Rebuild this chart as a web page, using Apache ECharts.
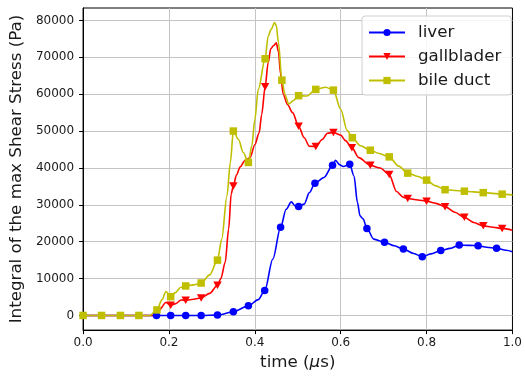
<!DOCTYPE html>
<html><head><meta charset="utf-8">
<script src="https://cdn.jsdelivr.net/npm/echarts@6/dist/echarts.min.js"></script>
<style>html,body{margin:0;padding:0;background:#fff}#c{width:525px;height:376px}</style>
</head><body><div id="c"></div>
<script>
const xTicks = [0, 0.2, 0.4, 0.6, 0.8, 1.0];
const yTicks = [0, 10000, 20000, 30000, 40000, 50000, 60000, 70000, 80000];
const seriesNames = ['liver', 'gallblader', 'bile duct'];

const liverT = [0,0.045,0.09,0.13,0.171,0.204,0.239,0.275,0.313,0.35,0.385,0.408,0.423,0.442,0.46,0.473,0.485,0.494,0.502,0.515,0.527,0.54,0.561,0.581,0.588,0.597,0.606,0.621,0.631,0.639,0.645,0.652,0.661,0.677,0.702,0.725,0.746,0.77,0.79,0.81,0.833,0.855,0.876,0.9,0.92,0.94,0.963,0.985,1.0];
const liverV = [0,0,0,0,0,0,0,0,100,1000,2600,4300,6750,15300,23900,28800,30800,29700,29550,30200,33300,35850,37400,40700,42100,40900,40400,41000,37800,30600,27000,26200,23600,20700,19850,18900,18000,16800,15900,16700,17600,18200,19100,19000,18900,18500,18200,17700,17300];
const liverM = [0,0,0,0,1,1,1,1,1,1,1,0,1,0,1,0,0,0,1,0,0,1,0,1,0,0,0,1,0,0,0,0,1,0,1,0,1,0,1,0,1,0,1,0,1,0,1,0,0];

const gallT = [0,0.045,0.09,0.13,0.164,0.177,0.193,0.204,0.216,0.228,0.239,0.257,0.275,0.295,0.313,0.321,0.331,0.339,0.345,0.35,0.357,0.366,0.377,0.389,0.4,0.41,0.416,0.424,0.431,0.437,0.444,0.45,0.455,0.46,0.466,0.476,0.488,0.502,0.515,0.527,0.542,0.557,0.569,0.583,0.6,0.611,0.626,0.642,0.669,0.692,0.713,0.73,0.745,0.756,0.78,0.8,0.822,0.843,0.866,0.888,0.91,0.932,0.955,0.976,1.0];
const gallV = [0,0,0,0,0,1400,3500,2800,3200,4200,4100,4400,4750,6000,8200,10000,14400,23400,33000,35100,38000,40300,42000,42800,46300,49500,54500,62000,68500,72300,73200,73900,71500,65500,60000,57200,55000,51300,48200,45900,45800,47700,49400,49600,48900,47400,45500,42800,40700,40000,38200,33600,32100,31700,31300,31000,30400,29500,28000,26600,25200,24300,23900,23600,23100];
const gallM = [0,0,0,0,0,0,0,1,0,0,1,0,1,0,1,0,0,0,0,1,0,0,0,0,0,0,0,1,0,0,0,0,0,0,0,0,0,1,0,0,1,0,0,1,0,0,1,0,1,0,1,0,0,1,0,1,0,1,0,1,0,1,0,1,0];

const bileT = [0,0.043,0.087,0.13,0.155,0.172,0.184,0.193,0.204,0.215,0.227,0.239,0.257,0.275,0.295,0.313,0.323,0.335,0.343,0.35,0.362,0.373,0.385,0.393,0.4,0.408,0.424,0.431,0.438,0.446,0.45,0.455,0.463,0.47,0.479,0.49,0.502,0.521,0.542,0.565,0.583,0.6,0.615,0.627,0.646,0.669,0.69,0.713,0.735,0.756,0.78,0.8,0.82,0.843,0.865,0.888,0.932,0.976,1.0];
const bileV = [0,0,0,0,0,1500,4300,6500,5100,6200,7600,8000,8300,8800,11000,15000,20700,32400,41500,50000,47700,44200,41500,46000,53100,61300,69600,75700,77600,79400,78600,74000,63800,60000,57300,58300,59600,59500,61300,61900,61100,55900,50200,48200,46000,44800,43900,43000,40500,38600,37700,36700,35200,34100,33900,33700,33300,32900,32700];
const bileM = [1,1,1,1,0,1,0,0,1,0,0,1,0,1,0,1,0,0,0,1,0,0,1,0,0,0,1,0,0,0,0,0,1,0,0,0,1,0,1,0,1,0,0,1,0,1,0,1,0,1,0,1,0,1,0,1,1,1,0];

const FONT = 'DejaVu Sans';
const TXT = '#1a1a1a';

function build(T, V, M) {
  return T.map((t, i) => M[i] ? { value: [t, V[i]] } : { value: [t, V[i]], symbol: 'none' });
}

const chart = echarts.init(document.getElementById('c'), null, { renderer: 'canvas' });
const triDown = 'path://M0,0L10,0L5,9Z';

const common = {
  type: 'line', smooth: 0.3, smoothMonotone: 'x', showAllSymbol: true, clip: false,
  animation: false
};

chart.setOption({
  animation: false,
  backgroundColor: '#fff',
  textStyle: { fontFamily: FONT },
  grid: { left: 83, right: 8, top: 8, bottom: 44, show: true, borderColor: '#000', borderWidth: 1, backgroundColor: 'transparent' },
  legend: {
    left: 362, top: 16, orient: 'vertical',
    padding: [8, 10, 6, 6], itemGap: 7,
    itemWidth: 36, itemHeight: 9,
    backgroundColor: 'rgba(255,255,255,0.85)', borderColor: '#d0d0d0', borderWidth: 1, borderRadius: 3,
    textStyle: { fontFamily: FONT, fontSize: 16.7, color: TXT, padding: [0, 0, 0, 8] },
    data: seriesNames
  },
  xAxis: {
    type: 'value', min: 0, max: 1, interval: 0.2,
    name: '{a|time (}{b|μ}{a|s)}', nameLocation: 'middle', nameGap: 22,
    nameTextStyle: { rich: { a: { fontFamily: FONT, fontSize: 16.7, color: TXT }, b: { fontFamily: FONT, fontSize: 16.7, fontStyle: 'italic', color: TXT } } },
    axisLine: { onZero: false, lineStyle: { color: '#000', width: 1 } },
    axisTick: { show: true, inside: false, length: 4, lineStyle: { color: '#000' } },
    axisLabel: { customValues: xTicks, formatter: v => v.toFixed(1), fontFamily: FONT, fontSize: 12, color: TXT, margin: 7 },
    splitLine: { show: true, showMinLine: false, showMaxLine: false, lineStyle: { color: '#c4c4c4', width: 1 } }
  },
  yAxis: {
    type: 'value', min: -3970, max: 83370,
    name: 'Integral of the max Shear Stress (Pa)', nameLocation: 'middle', nameGap: 48,
    nameTextStyle: { fontFamily: FONT, fontSize: 16.7, color: TXT },
    axisLine: { show: true, onZero: false, lineStyle: { color: '#000', width: 1 } },
    axisTick: { show: true, inside: false, length: 4, customValues: yTicks, lineStyle: { color: '#000' } },
    axisLabel: { customValues: yTicks, formatter: v => String(v), fontFamily: FONT, fontSize: 12, color: TXT, margin: 9 },
    splitLine: { show: true, lineStyle: { color: '#c4c4c4', width: 1 } }
  },
  series: [
    Object.assign({}, common, {
      name: seriesNames[0], data: build(liverT, liverV, liverM),
      symbol: 'circle', symbolSize: 7.5,
      lineStyle: { color: '#0000ff', width: 1.6 }, itemStyle: { color: '#0000ff' }
    }),
    Object.assign({}, common, {
      name: seriesNames[1], data: build(gallT, gallV, gallM),
      symbol: triDown, symbolSize: [8.5, 7.5],
      lineStyle: { color: '#ff0000', width: 1.6 }, itemStyle: { color: '#ff0000' }
    }),
    Object.assign({}, common, {
      name: seriesNames[2], data: build(bileT, bileV, bileM),
      symbol: 'rect', symbolSize: 7.5,
      lineStyle: { color: '#bfbf00', width: 1.6 }, itemStyle: { color: '#bfbf00' }
    })
  ]
});
</script></body></html>
